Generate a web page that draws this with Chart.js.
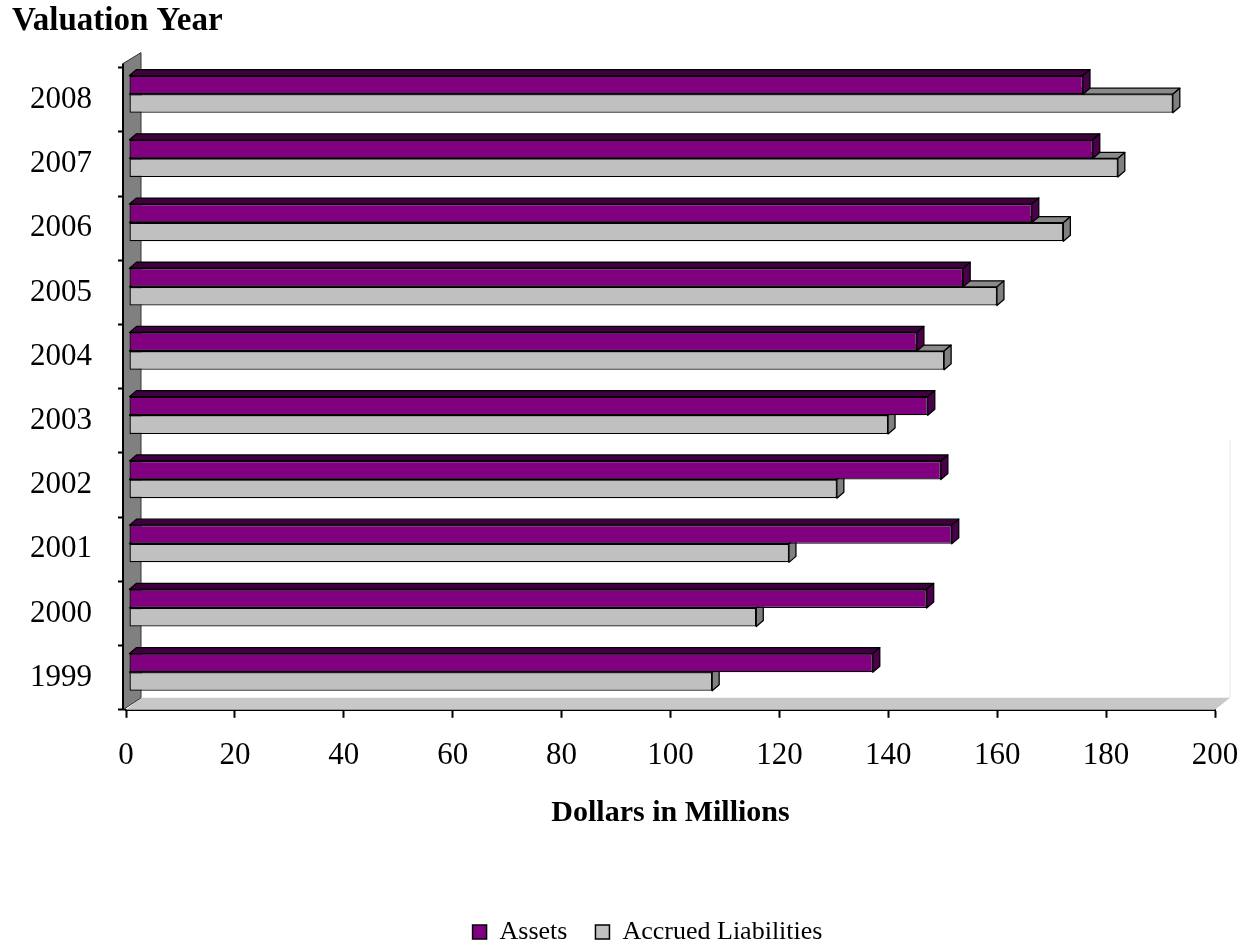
<!DOCTYPE html>
<html>
<head>
    <meta charset="utf-8">
    <title>Valuation Year</title>
    <style>
        html, body { margin: 0; padding: 0; background: #fff; overflow: hidden; }
        #wrap { width: 1245px; height: 955px; }
    </style>
</head>
<body>
    <div id="wrap"><canvas id="chart"></canvas></div>

    <script src="https://cdn.jsdelivr.net/npm/chart.js@4.4.1/dist/chart.umd.min.js"></script>
    <script>
        // valuation years, newest on top
        var years = ['2008', '2007', '2006', '2005', '2004', '2003', '2002', '2001', '2000', '1999'];
        // dollars in millions
        var assets      = [175.2, 177.0, 165.8, 153.2, 144.7, 146.7, 149.1, 151.1, 146.5, 136.6];
        var liabilities = [191.7, 181.6, 171.6, 159.4, 149.7, 139.4, 130.0, 121.2, 115.2, 107.1];
        var xTicks = [0, 20, 40, 60, 80, 100, 120, 140, 160, 180, 200];

        var serif = '"Liberation Serif", "Times New Roman", serif';

        // colours for front / top / side of each bar
        var shades = [
            { front: '#800080', top: '#3f003f', side: '#4c004c' },
            { front: '#c0c0c0', top: '#8a8a8a', side: '#808080' }
        ];

        // fake 3d: wall + floor, then bars pushed back a bit with a top and side face
        var depth = { dx: 15, dy: -12 };
        var bar3d = { dx: 7, dy: -6 };

        var threeD = {
            id: 'threeD',
            afterLayout: function (chart) {
                // legend sits a little right of centre
                chart.legend.left += 34;
                chart.legend.right += 34;
            },
            beforeDatasetsDraw: function (chart) {
                var a = chart.chartArea, ctx = chart.ctx;
                ctx.save();
                // floor
                ctx.beginPath();
                ctx.moveTo(a.left, a.bottom);
                ctx.lineTo(a.right, a.bottom);
                ctx.lineTo(a.right + depth.dx, a.bottom + depth.dy);
                ctx.lineTo(a.left + depth.dx, a.bottom + depth.dy);
                ctx.closePath();
                ctx.fillStyle = '#c8c8c8';
                ctx.fill();
                // faint back wall edge
                ctx.strokeStyle = '#e6e6e6';
                ctx.lineWidth = 1;
                ctx.beginPath();
                ctx.moveTo(a.right + depth.dx, a.bottom + depth.dy);
                ctx.lineTo(a.right + depth.dx, a.top + (a.bottom - a.top) * 0.58);
                ctx.stroke();
                // left wall
                ctx.beginPath();
                ctx.moveTo(a.left - 3, a.bottom);
                ctx.lineTo(a.left - 3, a.top - 4);
                ctx.lineTo(a.left + depth.dx, a.top - 15);
                ctx.lineTo(a.left + depth.dx, a.bottom + depth.dy);
                ctx.closePath();
                ctx.fillStyle = '#808080';
                ctx.fill();
                ctx.strokeStyle = '#333';
                ctx.lineWidth = 1;
                ctx.stroke();
                ctx.beginPath();
                ctx.moveTo(a.left - 3, a.bottom);
                ctx.lineTo(a.left - 3, a.top - 4);
                ctx.strokeStyle = '#000';
                ctx.lineWidth = 2;
                ctx.stroke();
                ctx.restore();

                ctx.save();
                ctx.translate(3, -5.5);
            },
            afterDatasetDraw: function (chart, args) {
                var ctx = chart.ctx;
                var s = shades[args.index];
                args.meta.data.forEach(function (el) {
                    var p = el.getProps(['x', 'y', 'base', 'height'], true);
                    var top = p.y - p.height / 2, bottom = p.y + p.height / 2;
                    ctx.lineWidth = 1.3;
                    ctx.strokeStyle = '#000';
                    ctx.lineJoin = 'round';
                    // top face
                    ctx.beginPath();
                    ctx.moveTo(p.base, top);
                    ctx.lineTo(p.x, top);
                    ctx.lineTo(p.x + bar3d.dx, top + bar3d.dy);
                    ctx.lineTo(p.base + bar3d.dx, top + bar3d.dy);
                    ctx.closePath();
                    ctx.fillStyle = s.top;
                    ctx.fill();
                    ctx.stroke();
                    // end face
                    ctx.beginPath();
                    ctx.moveTo(p.x, top);
                    ctx.lineTo(p.x + bar3d.dx, top + bar3d.dy);
                    ctx.lineTo(p.x + bar3d.dx, bottom + bar3d.dy);
                    ctx.lineTo(p.x, bottom);
                    ctx.closePath();
                    ctx.fillStyle = s.side;
                    ctx.fill();
                    ctx.stroke();
                });
            },
            afterDatasetsDraw: function (chart) {
                chart.ctx.restore();
            }
        };

        var ctx = document.getElementById('chart');

        new Chart(ctx, {
            type: 'bar',
            data: {
                labels: years,
                datasets: [
                    {
                        label: 'Assets',
                        data: assets,
                        backgroundColor: shades[0].front,
                        borderColor: '#000',
                        borderWidth: 1.3,
                        borderSkipped: false,
                        clip: false
                    },
                    {
                        label: 'Accrued Liabilities',
                        data: liabilities,
                        backgroundColor: shades[1].front,
                        borderColor: '#000',
                        borderWidth: 1.3,
                        borderSkipped: false,
                        clip: false
                    }
                ]
            },
            options: {
                indexAxis: 'y',
                responsive: true,
                maintainAspectRatio: false,
                animation: false,
                categoryPercentage: 0.58,
                barPercentage: 1,
                layout: { padding: { left: 12, right: 30, top: 0, bottom: 0 } },
                plugins: {
                    tooltip: { enabled: false },
                    title: {
                        display: true,
                        text: 'Valuation Year',
                        align: 'start',
                        color: '#000',
                        font: { family: serif, size: 33, weight: 'bold' },
                        padding: { top: 2, bottom: 26 }
                    },
                    legend: {
                        position: 'bottom',
                        labels: {
                            color: '#000',
                            font: { family: serif, size: 26 },
                            boxWidth: 14,
                            boxHeight: 14,
                            padding: 28,
                            generateLabels: function (chart) {
                                return chart.data.datasets.map(function (ds, i) {
                                    return {
                                        text: ds.label,
                                        fillStyle: ds.backgroundColor,
                                        strokeStyle: '#000',
                                        lineWidth: 1.5,
                                        datasetIndex: i,
                                        fontColor: '#000'
                                    };
                                });
                            }
                        }
                    }
                },
                scales: {
                    x: {
                        min: 0,
                        max: 200,
                        afterBuildTicks: function (scale) {
                            scale.ticks = xTicks.map(function (v) { return { value: v }; });
                        },
                        afterFit: function (scale) { scale.paddingRight = 0; },
                        grid: {
                            drawOnChartArea: false,
                            drawTicks: true,
                            tickLength: 8,
                            tickWidth: 2,
                            tickColor: '#000'
                        },
                        border: { display: true, color: '#000', width: 2 },
                        ticks: {
                            color: '#000',
                            font: { family: serif, size: 31 },
                            padding: 19,
                            maxRotation: 0
                        },
                        title: {
                            display: true,
                            text: 'Dollars in Millions',
                            color: '#000',
                            font: { family: serif, size: 30, weight: 'bold' },
                            padding: { top: 2, bottom: 60 }
                        }
                    },
                    y: {
                        afterFit: function (scale) { scale.width = 114; },
                        grid: {
                            drawOnChartArea: false,
                            drawTicks: true,
                            tickLength: 8,
                            tickWidth: 2,
                            tickColor: '#000',
                            offset: true
                        },
                        border: { display: false },
                        ticks: {
                            color: '#000',
                            font: { family: serif, size: 31 },
                            padding: 26
                        }
                    }
                }
            },
            plugins: [threeD]
        });
    </script>
</body>
</html>
